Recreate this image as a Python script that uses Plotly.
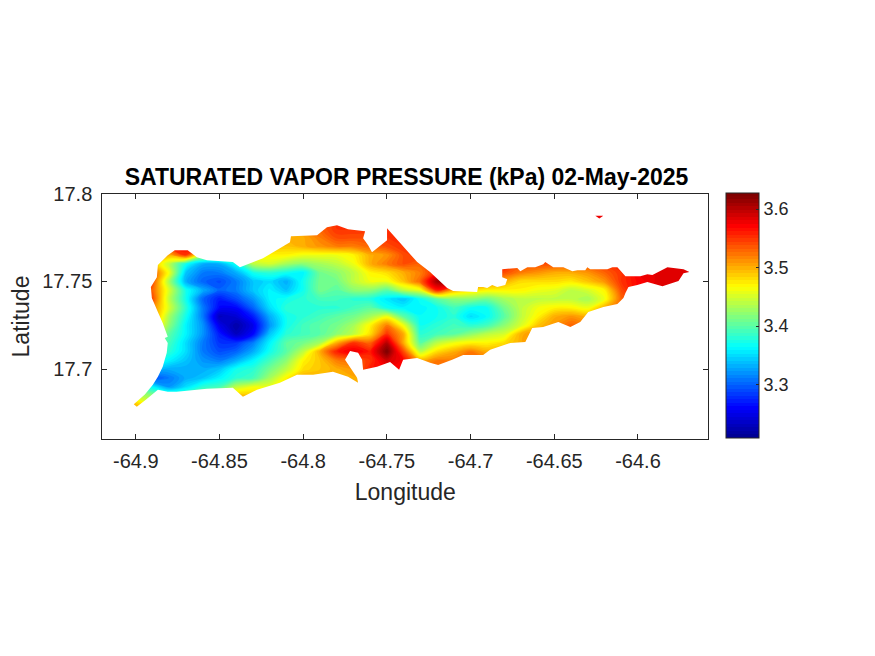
import plotly.graph_objects as go

# grid
lons = [-64.91, -64.90, -64.89, -64.88, -64.87, -64.86, -64.85, -64.84, -64.83, -64.82, -64.81, -64.80,
        -64.79, -64.78, -64.77, -64.76, -64.75, -64.74, -64.73, -64.72, -64.71, -64.70, -64.69, -64.68,
        -64.67, -64.66, -64.65, -64.64, -64.63, -64.62, -64.61, -64.60, -64.59, -64.58, -64.57, -64.56]
lats = [17.79, 17.785, 17.78, 17.775, 17.77, 17.765, 17.76, 17.755, 17.75, 17.745, 17.74, 17.735,
        17.73, 17.725, 17.72, 17.715, 17.71, 17.705, 17.70, 17.695, 17.69, 17.685, 17.68, 17.675]

svp = [
    [3.52, 3.52, 3.52, 3.52, 3.52, 3.52, 3.52, 3.52, 3.52, 3.52, 3.50, 3.52, 3.53, 3.55, 3.55, 3.55, 3.55, 3.55, 3.55, 3.55, 3.55, 3.55, 3.56, 3.56, 3.56, 3.56, 3.56, 3.57, 3.575, 3.575, 3.575, 3.57, 3.57, 3.57, 3.57, 3.57],
    [3.52, 3.52, 3.52, 3.52, 3.52, 3.52, 3.52, 3.52, 3.52, 3.52, 3.50, 3.52, 3.53, 3.55, 3.55, 3.55, 3.55, 3.55, 3.55, 3.55, 3.55, 3.55, 3.56, 3.56, 3.56, 3.56, 3.56, 3.57, 3.575, 3.575, 3.575, 3.57, 3.57, 3.57, 3.57, 3.57],
    [3.52, 3.52, 3.52, 3.52, 3.52, 3.52, 3.52, 3.52, 3.52, 3.52, 3.50, 3.52, 3.53, 3.55, 3.55, 3.55, 3.55, 3.55, 3.55, 3.55, 3.55, 3.55, 3.56, 3.56, 3.56, 3.56, 3.56, 3.56, 3.56, 3.56, 3.56, 3.56, 3.57, 3.57, 3.57, 3.57],
    [3.52, 3.52, 3.52, 3.55, 3.56, 3.52, 3.50, 3.50, 3.50, 3.50, 3.50, 3.50, 3.52, 3.54, 3.54, 3.54, 3.55, 3.55, 3.55, 3.55, 3.55, 3.55, 3.56, 3.56, 3.56, 3.56, 3.56, 3.56, 3.56, 3.56, 3.56, 3.56, 3.57, 3.57, 3.57, 3.57],
    [3.52, 3.52, 3.52, 3.55, 3.57, 3.53, 3.48, 3.48, 3.48, 3.49, 3.49, 3.50, 3.51, 3.52, 3.52, 3.53, 3.54, 3.55, 3.55, 3.55, 3.55, 3.55, 3.56, 3.56, 3.56, 3.56, 3.56, 3.56, 3.56, 3.56, 3.56, 3.56, 3.57, 3.57, 3.57, 3.57],
    [3.52, 3.52, 3.52, 3.50, 3.55, 3.44, 3.44, 3.46, 3.47, 3.47, 3.47, 3.46, 3.46, 3.46, 3.47, 3.50, 3.51, 3.54, 3.55, 3.55, 3.55, 3.56, 3.56, 3.57, 3.56, 3.56, 3.56, 3.56, 3.56, 3.56, 3.57, 3.57, 3.57, 3.58, 3.58, 3.58],
    [3.52, 3.52, 3.50, 3.44, 3.37, 3.33, 3.33, 3.37, 3.44, 3.45, 3.43, 3.42, 3.43, 3.44, 3.46, 3.50, 3.52, 3.54, 3.53, 3.55, 3.56, 3.56, 3.56, 3.56, 3.54, 3.54, 3.54, 3.54, 3.54, 3.55, 3.56, 3.57, 3.58, 3.58, 3.58, 3.58],
    [3.55, 3.55, 3.54, 3.46, 3.34, 3.31, 3.31, 3.33, 3.37, 3.38, 3.37, 3.36, 3.41, 3.42, 3.44, 3.47, 3.48, 3.50, 3.52, 3.56, 3.58, 3.56, 3.55, 3.54, 3.52, 3.51, 3.50, 3.50, 3.51, 3.53, 3.55, 3.575, 3.58, 3.58, 3.58, 3.58],
    [3.55, 3.55, 3.54, 3.43, 3.33, 3.30, 3.29, 3.31, 3.34, 3.35, 3.33, 3.37, 3.41, 3.41, 3.44, 3.46, 3.46, 3.49, 3.53, 3.61, 3.62, 3.55, 3.52, 3.50, 3.48, 3.48, 3.48, 3.475, 3.49, 3.51, 3.55, 3.57, 3.58, 3.58, 3.58, 3.58],
    [3.54, 3.54, 3.53, 3.45, 3.37, 3.33, 3.30, 3.31, 3.34, 3.36, 3.34, 3.37, 3.41, 3.40, 3.42, 3.42, 3.40, 3.44, 3.46, 3.56, 3.50, 3.48, 3.47, 3.47, 3.47, 3.46, 3.455, 3.44, 3.45, 3.47, 3.54, 3.57, 3.58, 3.58, 3.58, 3.58],
    [3.55, 3.55, 3.54, 3.44, 3.37, 3.30, 3.27, 3.29, 3.32, 3.36, 3.37, 3.38, 3.39, 3.39, 3.38, 3.375, 3.355, 3.34, 3.37, 3.40, 3.42, 3.42, 3.41, 3.43, 3.44, 3.44, 3.44, 3.44, 3.43, 3.46, 3.53, 3.55, 3.55, 3.55, 3.55, 3.55],
    [3.53, 3.53, 3.52, 3.45, 3.38, 3.31, 3.26, 3.26, 3.30, 3.35, 3.38, 3.38, 3.38, 3.38, 3.39, 3.40, 3.37, 3.36, 3.36, 3.37, 3.39, 3.37, 3.37, 3.41, 3.44, 3.46, 3.47, 3.47, 3.46, 3.50, 3.53, 3.53, 3.53, 3.53, 3.53, 3.53],
    [3.53, 3.53, 3.52, 3.43, 3.37, 3.31, 3.23, 3.24, 3.27, 3.33, 3.37, 3.38, 3.39, 3.40, 3.41, 3.43, 3.46, 3.40, 3.365, 3.37, 3.38, 3.35, 3.365, 3.40, 3.44, 3.47, 3.50, 3.51, 3.50, 3.52, 3.53, 3.53, 3.53, 3.53, 3.53, 3.53],
    [3.50, 3.50, 3.50, 3.42, 3.36, 3.32, 3.25, 3.22, 3.25, 3.32, 3.37, 3.39, 3.40, 3.41, 3.43, 3.47, 3.52, 3.46, 3.37, 3.38, 3.39, 3.38, 3.39, 3.42, 3.45, 3.49, 3.51, 3.53, 3.52, 3.53, 3.53, 3.53, 3.53, 3.53, 3.53, 3.53],
    [3.46, 3.46, 3.46, 3.40, 3.36, 3.32, 3.27, 3.23, 3.26, 3.34, 3.38, 3.39, 3.40, 3.42, 3.44, 3.48, 3.55, 3.50, 3.38, 3.39, 3.40, 3.42, 3.44, 3.45, 3.50, 3.51, 3.52, 3.53, 3.53, 3.53, 3.53, 3.53, 3.53, 3.53, 3.53, 3.53],
    [3.42, 3.42, 3.42, 3.39, 3.35, 3.31, 3.28, 3.28, 3.31, 3.36, 3.40, 3.41, 3.43, 3.50, 3.55, 3.53, 3.60, 3.50, 3.40, 3.44, 3.46, 3.47, 3.47, 3.48, 3.50, 3.52, 3.52, 3.52, 3.52, 3.52, 3.52, 3.52, 3.52, 3.52, 3.52, 3.52],
    [3.40, 3.40, 3.40, 3.38, 3.35, 3.31, 3.29, 3.30, 3.33, 3.37, 3.40, 3.44, 3.50, 3.56, 3.58, 3.56, 3.625, 3.54, 3.44, 3.48, 3.50, 3.52, 3.50, 3.50, 3.50, 3.50, 3.50, 3.50, 3.50, 3.50, 3.50, 3.50, 3.50, 3.50, 3.50, 3.50],
    [3.38, 3.38, 3.38, 3.36, 3.34, 3.32, 3.31, 3.33, 3.36, 3.39, 3.42, 3.47, 3.49, 3.52, 3.53, 3.55, 3.59, 3.57, 3.50, 3.52, 3.52, 3.52, 3.52, 3.52, 3.52, 3.52, 3.52, 3.52, 3.52, 3.52, 3.52, 3.52, 3.52, 3.52, 3.52, 3.52],
    [3.36, 3.36, 3.34, 3.33, 3.33, 3.33, 3.34, 3.37, 3.38, 3.41, 3.44, 3.48, 3.49, 3.50, 3.51, 3.56, 3.57, 3.57, 3.52, 3.52, 3.52, 3.52, 3.52, 3.52, 3.52, 3.52, 3.52, 3.52, 3.52, 3.52, 3.52, 3.52, 3.52, 3.52, 3.52, 3.52],
    [3.36, 3.34, 3.29, 3.31, 3.33, 3.34, 3.36, 3.38, 3.39, 3.43, 3.47, 3.50, 3.50, 3.50, 3.50, 3.50, 3.50, 3.53, 3.52, 3.52, 3.52, 3.52, 3.52, 3.52, 3.52, 3.52, 3.52, 3.52, 3.52, 3.52, 3.52, 3.52, 3.52, 3.52, 3.52, 3.52],
    [3.42, 3.40, 3.36, 3.32, 3.35, 3.38, 3.39, 3.44, 3.46, 3.46, 3.48, 3.50, 3.50, 3.50, 3.50, 3.50, 3.50, 3.50, 3.50, 3.50, 3.50, 3.50, 3.50, 3.50, 3.50, 3.50, 3.50, 3.50, 3.50, 3.50, 3.50, 3.50, 3.50, 3.50, 3.50, 3.50],
    [3.48, 3.44, 3.42, 3.40, 3.40, 3.42, 3.45, 3.49, 3.49, 3.49, 3.49, 3.49, 3.49, 3.49, 3.49, 3.49, 3.49, 3.49, 3.49, 3.49, 3.49, 3.49, 3.49, 3.49, 3.49, 3.49, 3.49, 3.49, 3.49, 3.49, 3.49, 3.49, 3.49, 3.49, 3.49, 3.49],
    [3.50, 3.49, 3.46, 3.45, 3.45, 3.46, 3.48, 3.49, 3.49, 3.49, 3.49, 3.49, 3.49, 3.49, 3.49, 3.49, 3.49, 3.49, 3.49, 3.49, 3.49, 3.49, 3.49, 3.49, 3.49, 3.49, 3.49, 3.49, 3.49, 3.49, 3.49, 3.49, 3.49, 3.49, 3.49, 3.49],
    [3.50, 3.50, 3.48, 3.47, 3.47, 3.47, 3.48, 3.49, 3.49, 3.49, 3.49, 3.49, 3.49, 3.49, 3.49, 3.49, 3.49, 3.49, 3.49, 3.49, 3.49, 3.49, 3.49, 3.49, 3.49, 3.49, 3.49, 3.49, 3.49, 3.49, 3.49, 3.49, 3.49, 3.49, 3.49, 3.49],
]

# St. Croix coastline as (lon, lat), clockwise from the western tip
coast = [
    (-64.9012, 17.6800), (-64.8946, 17.6855), (-64.8898, 17.6911), (-64.8868, 17.6956), (-64.8839, 17.7013),
    (-64.8815, 17.7093), (-64.8809, 17.7149), (-64.8827, 17.7178), (-64.8809, 17.7184), (-64.8839, 17.7263),
    (-64.8868, 17.7326), (-64.8904, 17.7405), (-64.8910, 17.7468), (-64.8874, 17.7524), (-64.8868, 17.7593),
    (-64.8809, 17.7649), (-64.8767, 17.7678), (-64.8690, 17.7678), (-64.8635, 17.7638), (-64.8575, 17.7621),
    (-64.8420, 17.7610), (-64.8378, 17.7581), (-64.8240, 17.7632), (-64.8157, 17.7678), (-64.8079, 17.7723),
    (-64.8073, 17.7757), (-64.7917, 17.7763), (-64.7858, 17.7809), (-64.7798, 17.7820), (-64.7732, 17.7797),
    (-64.7630, 17.7786), (-64.7642, 17.7746), (-64.7612, 17.7706), (-64.7589, 17.7666), (-64.7523, 17.7718),
    (-64.7499, 17.7735), (-64.7499, 17.7803), (-64.7421, 17.7718), (-64.7319, 17.7610), (-64.7242, 17.7553),
    (-64.7140, 17.7462), (-64.7104, 17.7445), (-64.7014, 17.7439), (-64.6961, 17.7439), (-64.6955, 17.7468),
    (-64.6925, 17.7468), (-64.6901, 17.7462), (-64.6871, 17.7479), (-64.6841, 17.7468), (-64.6793, 17.7479),
    (-64.6781, 17.7513), (-64.6811, 17.7524), (-64.6811, 17.7570), (-64.6721, 17.7576), (-64.6703, 17.7558),
    (-64.6661, 17.7581), (-64.6614, 17.7581), (-64.6566, 17.7598), (-64.6554, 17.7610), (-64.6506, 17.7581),
    (-64.6446, 17.7581), (-64.6392, 17.7558), (-64.6362, 17.7564), (-64.6315, 17.7564), (-64.6303, 17.7581),
    (-64.6285, 17.7570), (-64.6183, 17.7570), (-64.6153, 17.7581), (-64.6123, 17.7581), (-64.6075, 17.7530),
    (-64.5986, 17.7530), (-64.5944, 17.7541), (-64.5914, 17.7536), (-64.5824, 17.7581), (-64.5728, 17.7570),
    (-64.5693, 17.7553), (-64.5728, 17.7547), (-64.5758, 17.7502), (-64.5854, 17.7473), (-64.5944, 17.7496),
    (-64.6004, 17.7479), (-64.6057, 17.7468), (-64.6075, 17.7434), (-64.6087, 17.7405), (-64.6123, 17.7371),
    (-64.6207, 17.7354), (-64.6297, 17.7326), (-64.6345, 17.7269), (-64.6404, 17.7240), (-64.6476, 17.7269),
    (-64.6566, 17.7240), (-64.6632, 17.7235), (-64.6673, 17.7155), (-64.6763, 17.7149), (-64.6883, 17.7110),
    (-64.6925, 17.7081), (-64.7044, 17.7081), (-64.7110, 17.7053), (-64.7194, 17.7024), (-64.7242, 17.7036),
    (-64.7319, 17.7064), (-64.7403, 17.7053), (-64.7427, 17.6996), (-64.7481, 17.7041), (-64.7559, 17.7013),
    (-64.7642, 17.6996), (-64.7648, 17.7053), (-64.7672, 17.7093), (-64.7720, 17.7104), (-64.7750, 17.7053),
    (-64.7678, 17.6951), (-64.7672, 17.6923), (-64.7732, 17.6956), (-64.7822, 17.6985), (-64.7941, 17.6968),
    (-64.8037, 17.6968), (-64.8139, 17.6922), (-64.8216, 17.6900), (-64.8276, 17.6882), (-64.8360, 17.6843),
    (-64.8420, 17.6894), (-64.8575, 17.6888), (-64.8755, 17.6871), (-64.8809, 17.6871), (-64.8868, 17.6882),
    (-64.8940, 17.6826), (-64.8994, 17.6785),
]
islet = [(-64.6255, 17.7875), (-64.6207, 17.7875), (-64.6231, 17.7858)]

x_range = [-64.92, -64.558]
y_range = [17.66, 17.80]
x_ticks = [-64.9, -64.85, -64.8, -64.75, -64.7, -64.65, -64.6]
x_labels = ["-64.9", "-64.85", "-64.8", "-64.75", "-64.7", "-64.65", "-64.6"]
y_ticks = [17.7, 17.75, 17.8]
y_labels = ["17.7", "17.75", "17.8"]
cbar_ticks = [3.3, 3.4, 3.5, 3.6]
cbar_labels = ["3.3", "3.4", "3.5", "3.6"]

jet = [
    [0.0, "rgb(0,0,143)"],
    [0.125, "rgb(0,0,255)"],
    [0.375, "rgb(0,255,255)"],
    [0.625, "rgb(255,255,0)"],
    [0.875, "rgb(255,0,0)"],
    [1.0, "rgb(128,0,0)"],
]

# the page has an 8px body margin, so the figure starts at (8, 8) in the window
W, H = 867, 648
OFF = 8
INK = "#262626"
FONT = "Liberation Sans, Arial, sans-serif"

fig = go.Figure()
fig.add_trace(go.Contour(
    x=lons, y=lats, z=svp,
    colorscale=jet, zmin=3.208, zmax=3.627,
    contours=dict(coloring="fill", showlines=False, start=3.208, end=3.627, size=0.006),
    line=dict(width=0, smoothing=1.0),
    colorbar=dict(
        x=(726 - OFF) / W, xanchor="left", y=1 - (315.8 - OFF) / H, yanchor="middle",
        thickness=33, lenmode="pixels", len=245, xpad=0, ypad=0,
        outlinewidth=1, outlinecolor=INK,
        tickmode="array", tickvals=cbar_ticks, ticktext=cbar_labels,
        ticks="inside", ticklen=3, tickcolor=INK,
        tickfont=dict(family=FONT, size=18, color=INK),
    ),
    hoverinfo="skip",
))

# white sheet over the sea: axes box with the island cut out
mask_lon = [x_range[0], x_range[1], x_range[1], x_range[0], x_range[0], None] + [p[0] for p in coast] + [None] + [p[0] for p in islet]
mask_lat = [y_range[0], y_range[0], y_range[1], y_range[1], y_range[0], None] + [p[1] for p in coast] + [None] + [p[1] for p in islet]
fig.add_trace(go.Scatter(
    x=mask_lon, y=mask_lat, mode="lines", line=dict(width=0),
    fill="toself", fillcolor="white", hoverinfo="skip", showlegend=False,
))

axis_style = dict(
    showline=True, linecolor=INK, linewidth=1, mirror="ticks",
    ticks="inside", ticklen=5, tickcolor=INK, showgrid=False, zeroline=False,
    tickfont=dict(family=FONT, size=20, color=INK),
)
fig.update_layout(
    width=W, height=H,
    margin=dict(l=0, r=0, t=0, b=0, autoexpand=False),
    paper_bgcolor="white", plot_bgcolor="white",
    showlegend=False,
    title=dict(
        text="<b>SATURATED VAPOR PRESSURE (kPa) 02-May-2025</b>",
        font=dict(family=FONT, size=23, color="black"),
        xref="paper", x=(406.5 - OFF) / W, xanchor="center",
        yref="container", y=1 - (177 - OFF) / H, yanchor="middle",
    ),
    xaxis=dict(
        domain=[(102.3 - OFF) / W, (708.3 - OFF) / W], range=x_range,
        tickmode="array", tickvals=x_ticks, ticktext=x_labels, ticklabelstandoff=4,
        title=dict(text="Longitude", font=dict(family=FONT, size=23, color=INK), standoff=12),
        **axis_style,
    ),
    yaxis=dict(
        domain=[1 - (439.3 - OFF) / H, 1 - (193.7 - OFF) / H], range=y_range,
        tickmode="array", tickvals=y_ticks, ticktext=y_labels, ticklabelstandoff=5,
        title=dict(text="Latitude", font=dict(family=FONT, size=23, color=INK), standoff=6),
        **axis_style,
    ),
)

fig.write_html("out.html")
